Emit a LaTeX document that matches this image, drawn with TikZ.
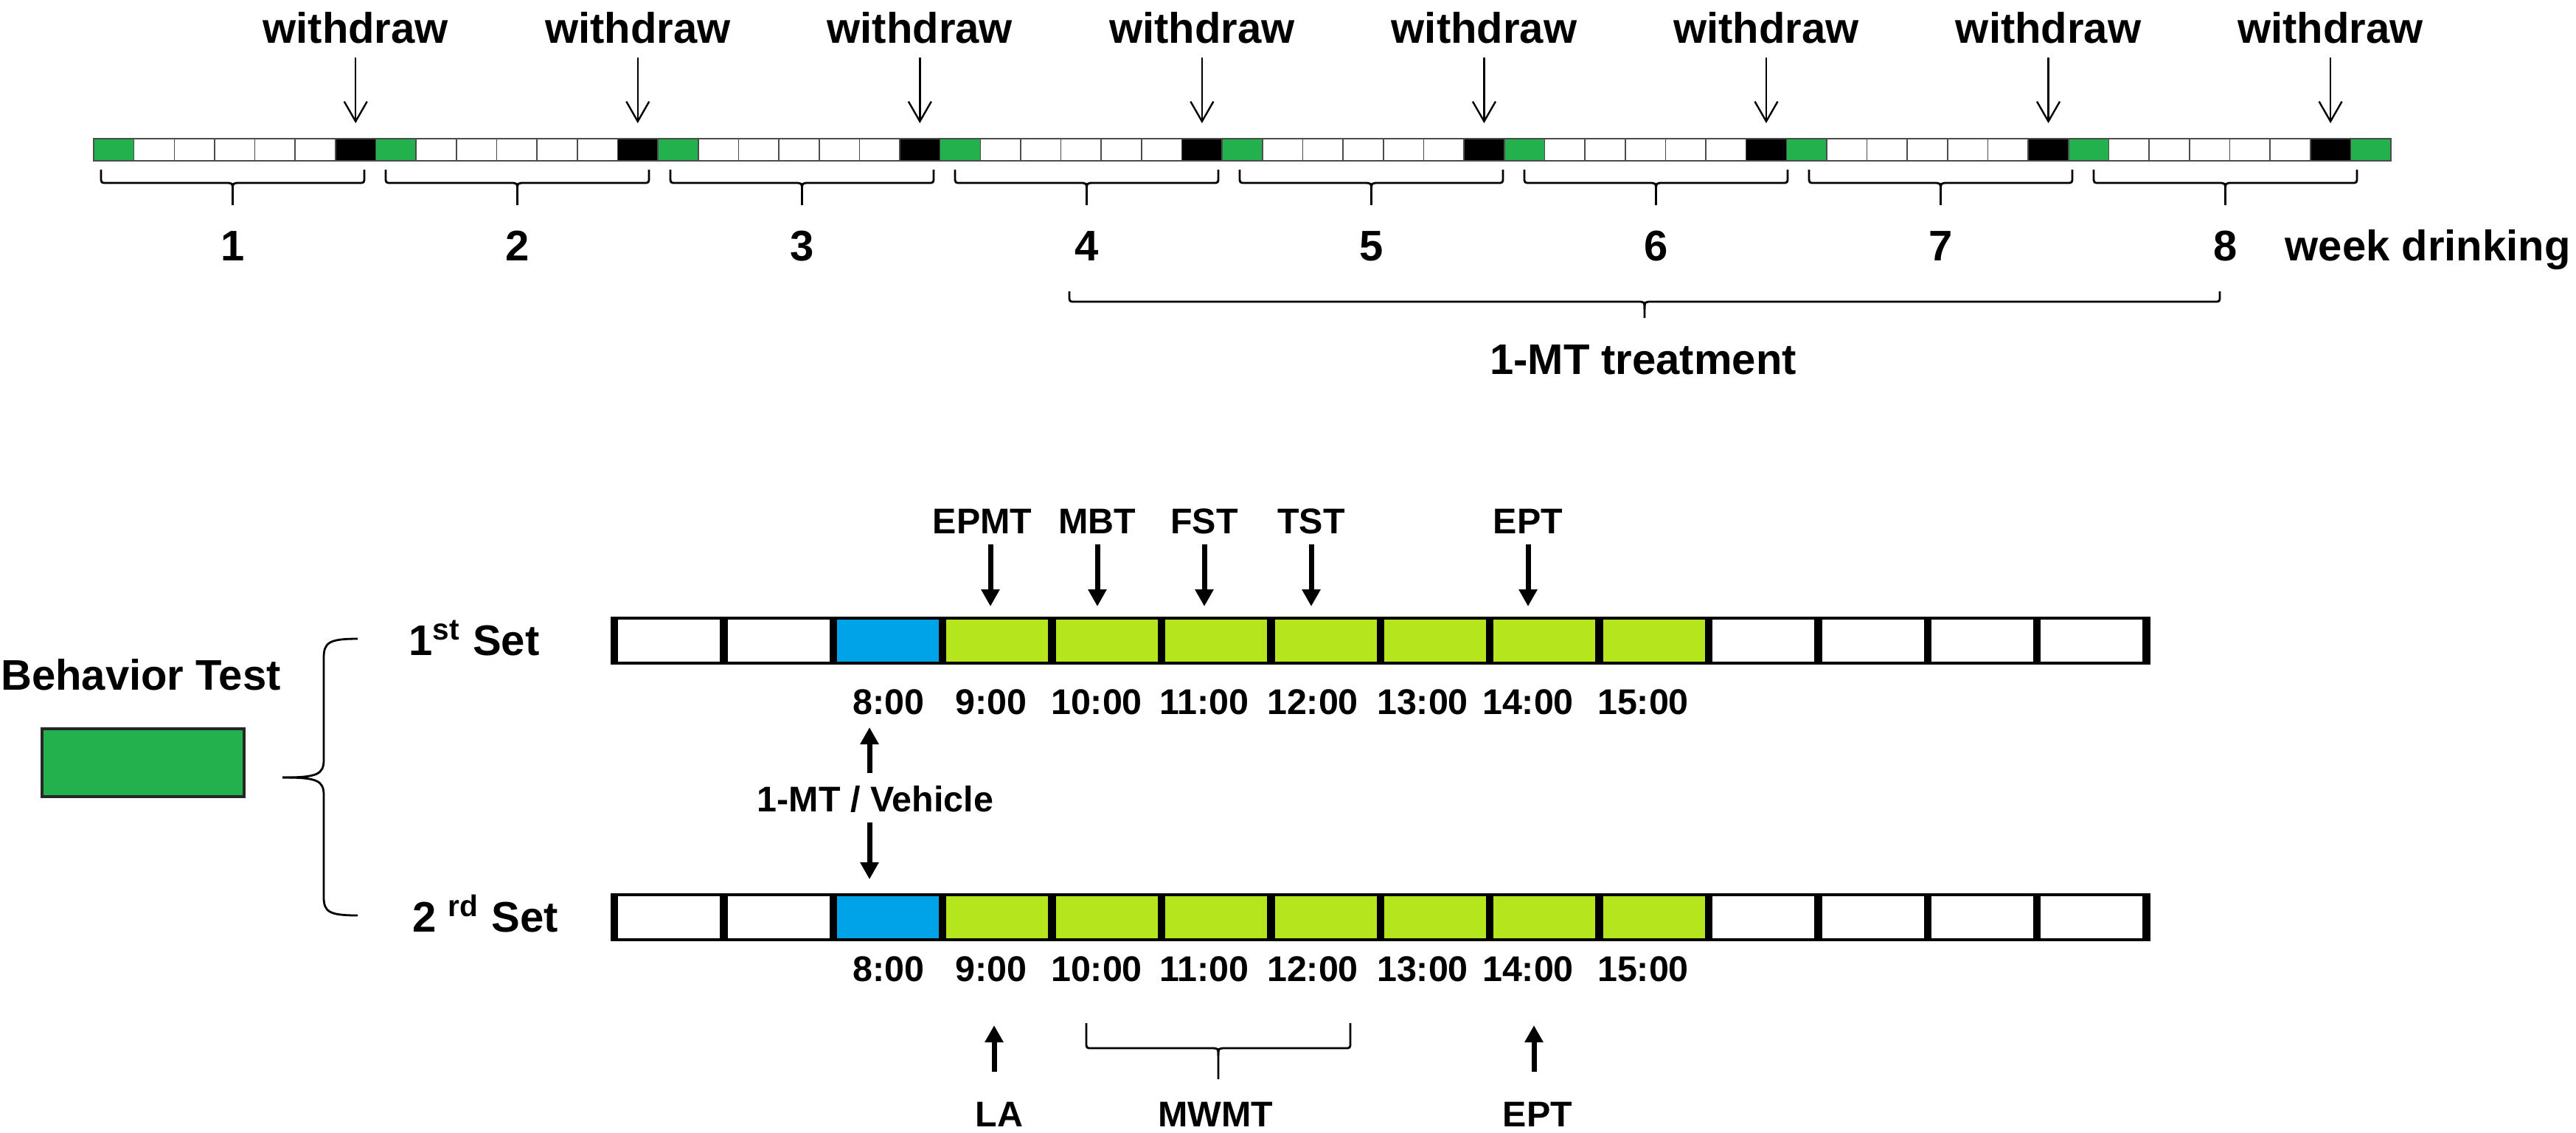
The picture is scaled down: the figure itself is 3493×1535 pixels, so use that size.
\documentclass[tikz,border=0pt]{standalone}
\usepackage{fontspec}
\setmainfont{Liberation Sans}
\usetikzlibrary{arrows.meta,calc}
\definecolor{pgreen}{HTML}{22B14C}
\definecolor{pblue}{HTML}{00A2E8}
\definecolor{plime}{HTML}{B5E61D}
\tikzset{
  big/.style={font=\fontsize{14.5}{17}\selectfont\bfseries, inner sep=0pt, anchor=base},
  small/.style={font=\fontsize{12.1}{14}\selectfont\bfseries, inner sep=0pt, anchor=base},
  thinarrow/.style={line width=0.6pt, -{Straight Barb[length=6.75pt,width=7.75pt,line width=0.6pt]}},
  boldarrow/.style={line width=1.75pt, -{Triangle[length=5.75pt,width=6pt]}},
  bracepath/.style={line width=0.7pt},
  stripcell/.style={draw=black!70, line width=0.4pt},
  barline/.style={line width=1.1pt},
  barsep/.style={line width=2.6pt},
}
\newcommand\mybrace[5]{%
  \pgfmathsetmacro\bc{(#1+#2)/2}%
  \draw[bracepath] (#1,#3) -- ({#1},{#4-8}) .. controls ({#1},{#4}) .. ({#1+8},{#4}) -- ({\bc-10},{#4}) .. controls ({\bc},{#4}) .. ({\bc},{#4+10}) -- ({\bc},{#5});
  \draw[bracepath] ({\bc},{#4+10}) .. controls ({\bc},{#4}) .. ({\bc+10},{#4}) -- ({#2-8},{#4}) .. controls ({#2},{#4}) .. ({#2},{#4-8}) -- (#2,#3);
}
\begin{document}
\begin{tikzpicture}[x=0.25pt,y=-0.25pt]
\useasboundingbox (0,0) rectangle (3493,1535);
% ---------- top strip ----------
\foreach \i in {0,...,56}{
  \pgfmathsetmacro\xa{127+\i*54.65}
  \pgfmathsetmacro\xb{127+(\i+1)*54.65}
  \pgfmathtruncatemacro\m{mod(\i,7)}
  \ifnum\m=0 \def\cc{pgreen}\else\ifnum\m=6 \def\cc{black}\else\def\cc{white}\fi\fi
  \draw[stripcell, fill=\cc] (\xa,188) rectangle (\xb,218);
}
\foreach \k in {0,...,7}{
  \pgfmathsetmacro\xw{127+(7*\k+6.5)*54.65}
  \node[big] (wd\k) at (\xw,58) {withdraw};
  \coordinate (ws\k) at (\xw,78);
  \coordinate (we\k) at (\xw,167);
  \draw[thinarrow] (ws\k) -- (we\k);
  \pgfmathsetmacro\bl{137+386*\k}
  \pgfmathsetmacro\br{494+386*\k}
  \mybrace{\bl}{\br}{230}{248}{278}
  \pgfmathtruncatemacro\nn{\k+1}
  \node[big] (wk\k) at ({316+386*\k},353) {\nn};
}
\node[big, anchor=base west] (wdr) at (3098,353) {week drinking};
\mybrace{1450}{3010}{395}{409}{431}
\node[big] (mt) at (2228,507) {1-MT treatment};
% ---------- behavior test ----------
\node[big] (bt) at (191,935) {Behavior Test};
\draw[fill=pgreen, draw=black!85, line width=0.8pt] (57,988) rectangle (331,1080);
\draw[bracepath] (485,866) .. controls (446,866) and (439,871) .. (439,892) -- (439,1030)
  .. controls (439,1050) and (430,1054) .. (383,1054);
\draw[bracepath] (383,1054) .. controls (430,1054) and (439,1058) .. (439,1078) -- (439,1216)
  .. controls (439,1236) and (446,1241) .. (485,1241);
\node[big] (set1) at (643,888) {1\textsuperscript{st} Set};
\node[big] (set2) at (658,1263) {2 \textsuperscript{rd} Set};
% ---------- bars ----------
\foreach \yt/\yb/\r in {838/899/1, 1213/1274/2}{
  \foreach \j in {0,...,13}{
    \pgfmathsetmacro\xa{833+\j*148.4}
    \pgfmathsetmacro\xb{833+(\j+1)*148.4}
    \ifnum\j=2 \def\cc{pblue}\else\ifnum\j>2 \ifnum\j<10 \def\cc{plime}\else\def\cc{white}\fi\else\def\cc{white}\fi\fi
    \fill[\cc] (\xa,\yt) rectangle (\xb,\yb);
  }
  \draw[barline] (833,\yt) -- (2911,\yt);
  \draw[barline] (833,\yb) -- (2911,\yb);
  \foreach \j in {0,...,14}{
    \pgfmathsetmacro\xa{833+\j*148.4}
    \draw[barsep] (\xa,{\yt-2}) -- (\xa,{\yb+2});
  }
}
% time labels
\foreach \t/\x [count=\c] in {8:00/1205, 9:00/1344, 10:00/1487, 11:00/1633, 12:00/1780, 13:00/1929, 14:00/2072, 15:00/2228}{
  \node[small] (ta\c) at (\x,968) {\t};
  \node[small] (tb\c) at (\x,1330) {\t};
}
% tests above set 1
\foreach \lab/\x/\ax [count=\c] in {EPMT/1332/1343, MBT/1488/1488, FST/1633/1633, TST/1778/1778, EPT/2072/2072}{
  \node[small] (up\c) at (\x,723) {\lab};
  \coordinate (ua\c) at (\ax,738);
  \coordinate (ub\c) at (\ax,822);
  \draw[boldarrow] (ua\c) -- (ub\c);
}
% 1-MT / Vehicle
\node[small] (veh) at (1187,1100) {1-MT / Vehicle};
\coordinate (v1) at (1179,1048);
\coordinate (v2) at (1179,986);
\coordinate (v3) at (1179,1115);
\coordinate (v4) at (1179,1192);
\draw[boldarrow] (v1) -- (v2);
\draw[boldarrow] (v3) -- (v4);
% tests below set 2
\node[small] (la) at (1355,1527) {LA};
\coordinate (la1) at (1348,1453);
\coordinate (la2) at (1348,1390);
\draw[boldarrow] (la1) -- (la2);
\mybrace{1473}{1831}{1387}{1421}{1463}
\node[small] (mwmt) at (1648,1527) {MWMT};
\node[small] (ept2) at (2085,1527) {EPT};
\coordinate (ep1) at (2080,1453);
\coordinate (ep2) at (2080,1390);
\draw[boldarrow] (ep1) -- (ep2);
\end{tikzpicture}
\end{document}
